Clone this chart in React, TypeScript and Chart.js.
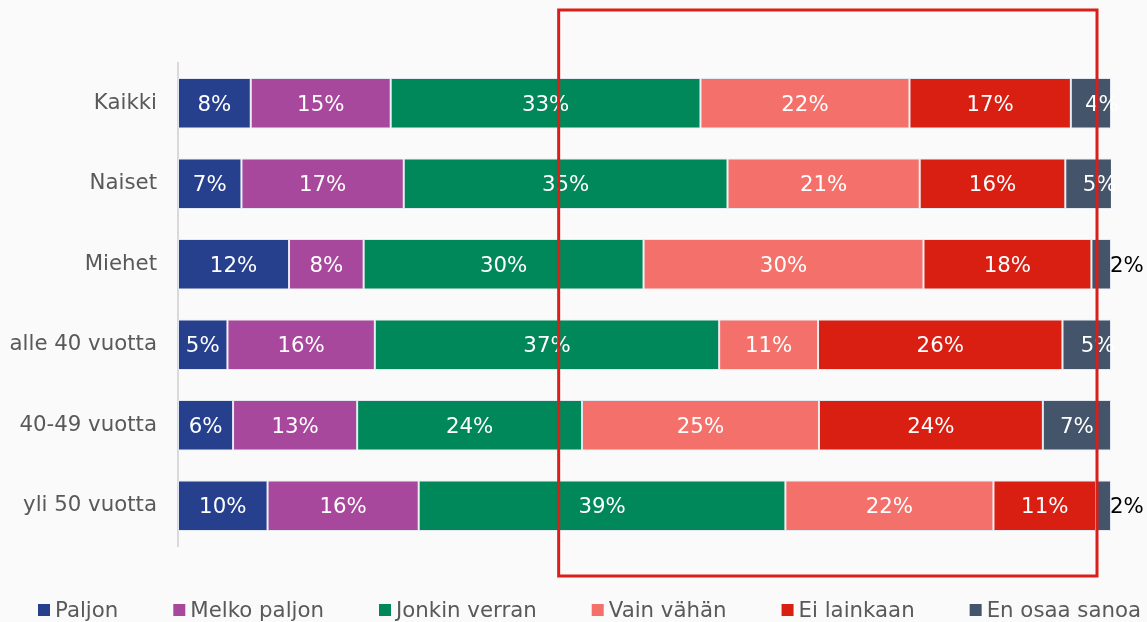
import React, { useEffect, useRef } from 'react';
import { Chart, registerables } from 'chart.js';

Chart.register(...registerables);

const categories = ['Kaikki', 'Naiset', 'Miehet', 'alle 40 vuotta', '40-49 vuotta', 'yli 50 vuotta'];
const seriesNames = ['Paljon', 'Melko paljon', 'Jonkin verran', 'Vain vähän', 'Ei lainkaan', 'En osaa sanoa'];
const paljon = [7.8, 6.8, 11.9, 5.3, 5.9, 9.6];
const melkoPaljon = [15.0, 17.4, 8.0, 15.8, 13.3, 16.2];
const jonkinVerran = [33.2, 34.7, 30.0, 36.9, 24.1, 39.3];
const vainVahan = [22.4, 20.6, 30.0, 10.6, 25.4, 22.3];
const eiLainkaan = [17.3, 15.6, 18.0, 26.2, 24.0, 11.0];
const enOsaaSanoa = [4.3, 5.0, 2.1, 5.2, 7.3, 1.6];
const seriesValues = [paljon, melkoPaljon, jonkinVerran, vainVahan, eiLainkaan, enOsaaSanoa];
const seriesColors = ['#26408E', '#A8489C', '#00875A', '#F4706A', '#D91E12', '#44546A'];

// highlight box annotation (x in axis units)
const highlightFrom = 40.8;
const highlightTo = 98.5;

const FONT = '"DejaVu Sans", Verdana, sans-serif';
const FONT_SIZE = 21.3;

const labelPlugin = {
  id: 'barLabels',
  afterDatasetsDraw(chart: any) {
    const ctx = chart.ctx;
    ctx.save();
    ctx.font = `${FONT_SIZE}px ${FONT}`;
    ctx.textBaseline = 'middle';
    const n = chart.data.datasets.length;
    chart.data.datasets.forEach((ds: any, di: number) => {
      const meta = chart.getDatasetMeta(di);
      meta.data.forEach((el: any, i: number) => {
        const v = ds.data[i] as number;
        const txt = Math.round(v) + '%';
        const x0 = Math.min(el.base, el.x);
        const x1 = Math.max(el.base, el.x);
        const w = x1 - x0;
        if (v < 3) {
          ctx.fillStyle = '#000000';
          ctx.textAlign = 'left';
          ctx.fillText(txt, x1 - 1, el.y + 2);
        } else {
          ctx.fillStyle = '#ffffff';
          ctx.textAlign = 'center';
          let cx = (x0 + x1) / 2;
          if (di === n - 1 && w < 55) cx += 11;
          ctx.fillText(txt, cx, el.y + 2);
        }
      });
    });
    ctx.restore();
  },
};

const overlayPlugin = {
  id: 'overlay',
  afterDraw(chart: any) {
    const ctx = chart.ctx;
    const xs = chart.scales.x;
    const area = chart.chartArea;
    ctx.save();
    // highlight rectangle
    const xa = xs.getPixelForValue(highlightFrom);
    const xb = xs.getPixelForValue(highlightTo);
    ctx.strokeStyle = '#DA1F1A';
    ctx.lineWidth = 3;
    ctx.strokeRect(xa, area.top - 53, xb - xa, area.bottom - area.top + 83);

    // legend
    ctx.font = `${FONT_SIZE}px ${FONT}`;
    ctx.textBaseline = 'middle';
    ctx.textAlign = 'left';
    const box = 12;
    const gapBoxText = 5;
    const itemGap = 55;
    let x = 38;
    const y = 610;
    seriesNames.forEach((name, i) => {
      ctx.fillStyle = seriesColors[i];
      ctx.fillRect(x, y - box / 2, box, box);
      ctx.fillStyle = '#595959';
      ctx.fillText(name, x + box + gapBoxText, y + 1);
      x += box + gapBoxText + ctx.measureText(name).width + itemGap;
    });
    ctx.restore();
  },
};

export default function App() {
  const ref = useRef<HTMLCanvasElement | null>(null);
  useEffect(() => {
    document.body.style.margin = '0';
    document.body.style.background = '#FAFAFA';
    if (!ref.current) return;
    const chart = new Chart(ref.current, {
      type: 'bar',
      data: {
        labels: categories,
        datasets: seriesNames.map((name, i) => ({
          label: name,
          data: seriesValues[i],
          backgroundColor: seriesColors[i],
          borderColor: 'rgba(225,230,238,0.9)',
          borderWidth: 1,
          borderSkipped: false,
          barPercentage: 0.63,
          categoryPercentage: 1.0,
        })),
      },
      options: {
        indexAxis: 'y',
        animation: false,
        responsive: false,
        maintainAspectRatio: false,
        layout: { padding: { left: 8, right: 36, top: 63, bottom: 76 } },
        plugins: {
          legend: { display: false },
          tooltip: { enabled: false },
        },
        scales: {
          x: {
            stacked: true,
            min: 0,
            max: 100,
            display: false,
          },
          y: {
            stacked: true,
            grid: { display: false, drawTicks: false },
            border: { display: true, color: '#D9D9D9', width: 2 },
            ticks: {
              color: '#595959',
              font: { family: FONT, size: FONT_SIZE },
              padding: 21,
            },
            afterFit(scale: any) {
              scale.width = 170;
            },
          },
        },
      },
      plugins: [labelPlugin, overlayPlugin],
    });
    return () => chart.destroy();
  }, []);
  return (
    <div style={{ width: 1147, height: 622, background: '#FAFAFA' }}>
      <canvas ref={ref} width={1147} height={622} style={{ display: 'block' }} />
    </div>
  );
}
